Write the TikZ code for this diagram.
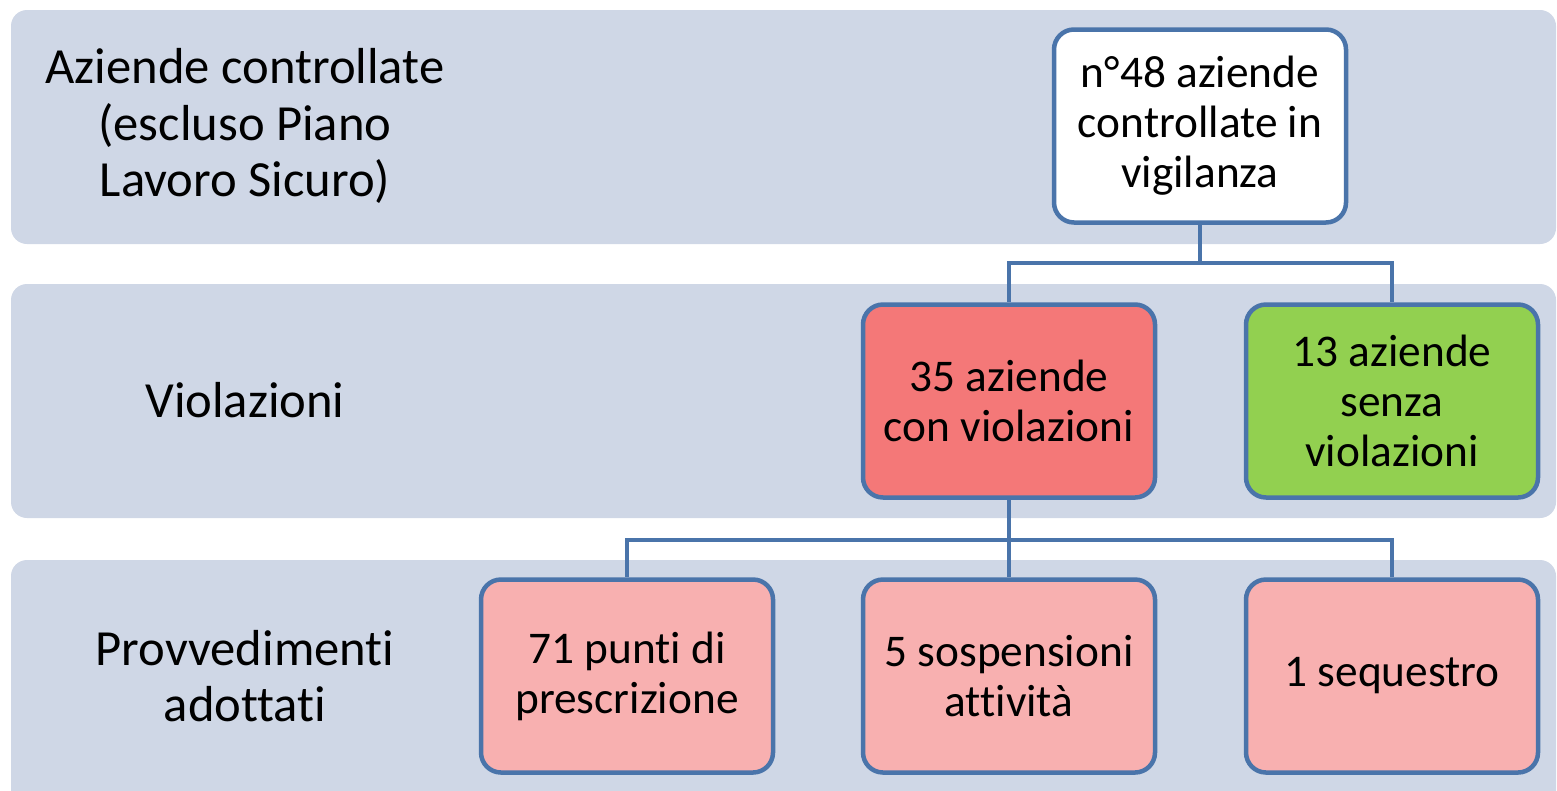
\documentclass[tikz,border=0pt]{standalone}
\usepackage{fontspec}
\setmainfont{Carlito}[Ligatures=CommonOff]
\definecolor{bandfill}{HTML}{CFD7E6}
\definecolor{boxline}{HTML}{4A74AA}
\definecolor{redfill}{HTML}{F47878}
\definecolor{greenfill}{HTML}{92D050}
\definecolor{pinkfill}{HTML}{F8B0B0}
\tikzstyle{band}=[fill=bandfill, rounded corners=0.16cm]
\tikzstyle{rowlabel}=[align=center, font=\fontsize{14.4}{16}\selectfont]
\tikzstyle{ebox}=[rectangle, rounded corners=0.2cm, draw=boxline, line width=0.045cm, minimum width=2.92cm, minimum height=1.93cm, align=center, font=\fontsize{12.9}{14.2}\selectfont]
\tikzstyle{link}=[draw=boxline, line width=0.04cm]

\begin{document}
\begin{tikzpicture}
\useasboundingbox (0,0) rectangle (15.57,7.9);

\fill[band] (0.11,5.46) rectangle (15.56,7.80);
\fill[band] (0.11,2.72) rectangle (15.56,5.06);
\fill[band] (0.11,-0.3) rectangle (15.56,2.30);

\node [rowlabel] (l1) at (2.45,6.64) {Aziende controllate\\(escluso Piano\\Lavoro Sicuro)};
\node [rowlabel] (l2) at (2.45,3.90) {Violazioni};
\node [rowlabel] (l3) at (2.45,1.14) {Provvedimenti\\adottati};

\node [ebox, fill=white] (tot) at (12.00,6.64) {n°48 aziende\\controllate in\\vigilanza};
\node [ebox, fill=redfill] (con) at (10.09,3.89) {35 aziende\\con violazioni};
\node [ebox, fill=greenfill] (senza) at (13.92,3.89) {13 aziende\\senza\\violazioni};
\node [ebox, fill=pinkfill] (presc) at (6.27,1.14) {71 punti di\\prescrizione};
\node [ebox, fill=pinkfill] (sosp) at (10.09,1.14) {5 sospensioni\\attività};
\node [ebox, fill=pinkfill] (seq) at (13.92,1.14) {1 sequestro};

\draw [link] (tot.south) -- ++(0,-0.38) -| (con.north);
\draw [link] (tot.south) -- ++(0,-0.38) -| (senza.north);
\draw [link] (con.south) -- ++(0,-0.40) -| (presc.north);
\draw [link] (con.south) -- (sosp.north);
\draw [link] (con.south) -- ++(0,-0.40) -| (seq.north);
\end{tikzpicture}
\end{document}
